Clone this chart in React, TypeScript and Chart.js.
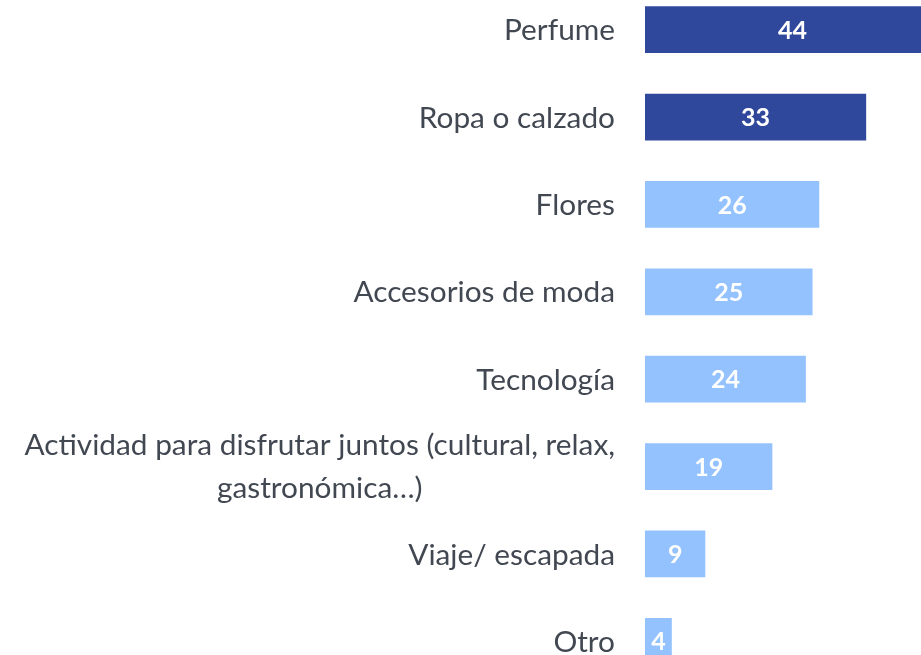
import { useEffect, useRef } from "react";
import { Chart, registerables } from "chart.js";

Chart.register(...registerables);

const categories: (string | string[])[] = [
  "Perfume",
  "Ropa o calzado",
  "Flores",
  "Accesorios de moda",
  "Tecnología",
  ["Actividad para disfrutar juntos (cultural, relax,", "gastronómica…)"],
  "Viaje/ escapada",
  "Otro",
];
const values = [44, 33, 26, 25, 24, 19, 9, 4];
const DARK = "#2F489C";
const LIGHT = "#93C2FF";
const barColors = [DARK, DARK, LIGHT, LIGHT, LIGHT, LIGHT, LIGHT, LIGHT];
const xMax = 47;

const FONT = "Lato, 'Open Sans', sans-serif";

const labelPlugin = {
  id: "customLabels",
  afterDatasetsDraw(chart: any) {
    const ctx = chart.ctx as CanvasRenderingContext2D;
    const meta = chart.getDatasetMeta(0);
    const xs = chart.scales.x;
    ctx.save();
    ctx.font = `bold 25px ${FONT}`;
    ctx.fillStyle = "#FFFFFF";
    ctx.textAlign = "center";
    ctx.textBaseline = "middle";
    meta.data.forEach((bar: any, i: number) => {
      const cx = (xs.getPixelForValue(0) + xs.getPixelForValue(values[i])) / 2;
      ctx.fillText(String(values[i]), cx, bar.y + 1);
    });
    ctx.font = `29.8px ${FONT}`;
    ctx.fillStyle = "#424852";
    const right = chart.chartArea.left - 30;
    const lineH = 43;
    categories.forEach((c, i) => {
      const lines = Array.isArray(c) ? c : [c];
      const y = meta.data[i].y;
      if (lines.length === 1) {
        ctx.textAlign = "right";
        ctx.fillText(lines[0], right, y + 1);
      } else {
        const maxW = Math.max(...lines.map((l) => ctx.measureText(l).width));
        const center = right - maxW / 2;
        ctx.textAlign = "center";
        lines.forEach((l, k) => {
          ctx.fillText(l, center, y + (k - (lines.length - 1) / 2) * lineH);
        });
      }
    });
    ctx.restore();
  },
};

export default function App() {
  const ref = useRef<HTMLCanvasElement>(null);
  useEffect(() => {
    if (!ref.current) return;
    const chart = new Chart(ref.current, {
      type: "bar",
      data: {
        labels: categories as any,
        datasets: [
          {
            data: values,
            backgroundColor: barColors,
            borderWidth: 0,
            barPercentage: 0.535,
            categoryPercentage: 1,
          },
        ],
      },
      options: {
        indexAxis: "y",
        animation: false,
        responsive: false,
        maintainAspectRatio: false,
        layout: { padding: { left: 645, right: 0, top: 0, bottom: 0 } },
        plugins: { legend: { display: false }, tooltip: { enabled: false } },
        scales: {
          x: { display: false, min: 0, max: xMax, grid: { display: false } },
          y: { display: false, grid: { display: false } },
        },
      },
      plugins: [labelPlugin],
    });
    return () => chart.destroy();
  }, []);
  return (
    <div
      style={{
        position: "fixed",
        left: 0,
        top: 0,
        width: 921,
        height: 655,
        overflow: "hidden",
        background: "#fff",
      }}
    >
      <canvas
        ref={ref}
        width={960}
        height={699}
        style={{ position: "absolute", left: 0, top: -14, width: 960, height: 699 }}
      />
    </div>
  );
}
